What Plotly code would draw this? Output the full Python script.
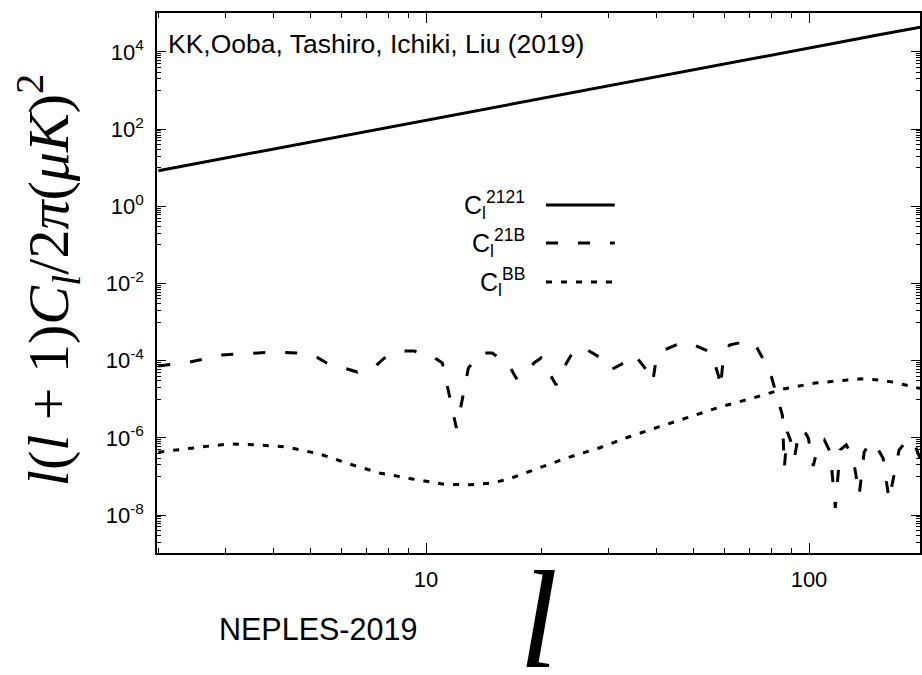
import plotly.graph_objects as go

# multipole values and l(l+1)C_l/2pi in (muK)^2
ell_2121 = [2, 3, 4, 5, 6, 8, 10, 15, 20, 30, 40, 50, 70, 100, 150, 200]
cl_2121 = [8.4, 18, 31, 47, 66, 112, 170, 365, 625, 1330, 2280, 3450, 6500, 12600, 27000, 46000]

ell_21b = [2.0, 2.42, 2.93, 3.53, 4.03, 4.59, 5.18, 5.50, 6.20, 6.62, 7.38, 7.79, 8.73, 9.32,
           10.45, 11.03, 11.5, 12.0, 12.43, 12.9, 13.93, 14.88, 16.38, 17.19, 18.36, 19.14,
           19.97, 20.95, 21.85, 22.79, 24.19, 25.84, 28.61, 30.38, 32.85, 35.08, 37.47, 39.08,
           39.8, 41.25, 46.22, 49.37, 55.33, 56.67, 58.05, 58.75, 59.8, 62.0, 69.1, 72.9, 77.4,
           79.8, 82.2, 85.2, 86.2, 87.8, 89.4, 91.6, 93.8, 96.6, 99.6, 102.6, 105.7, 109.6,
           113.6, 117.1, 120.6, 125.1, 130.4, 135.2, 139.3, 144.4, 149.7, 156.1, 161.8, 167.8,
           171.9, 181.4, 188.1, 194.9]
cl_21b = [7.3e-5, 9.3e-5, 1.41e-4, 1.59e-4, 1.69e-4, 1.59e-4, 1.25e-4, 8.8e-5, 6.1e-5, 5.1e-5,
          7.3e-5, 1.18e-4, 1.79e-4, 1.79e-4, 1.25e-4, 8.8e-5, 1.3e-5, 1.82e-6, 9.6e-6, 6.5e-5,
          1.59e-4, 1.59e-4, 8.3e-5, 3.58e-5, 4.8e-5, 8.8e-5, 1.18e-4, 4.8e-5, 2.36e-5, 6.1e-5,
          1.69e-4, 2.15e-4, 1.18e-4, 5.8e-5, 8.8e-5, 1.41e-4, 6.1e-5, 2.82e-5, 9.3e-5, 1.79e-4,
          2.89e-4, 2.72e-4, 1.69e-4, 8.8e-5, 4.0e-5, 1.97e-5, 1.41e-4, 2.56e-4, 3.26e-4, 2.28e-4,
          7.8e-5, 3.8e-5, 1.3e-5, 3.9e-6, 1.67e-7, 1.43e-6, 8.9e-7, 3.0e-7, 1.2e-6, 1.71e-6,
          1.0e-6, 1.88e-7, 6.6e-7, 8.9e-7, 4.3e-7, 1.54e-8, 4.9e-7, 6.6e-7, 3.0e-7, 3.3e-8,
          4.3e-7, 7.9e-7, 6.2e-7, 3.0e-7, 2.5e-8, 1.48e-7, 4.9e-7, 9.4e-7, 7.4e-7, 3.0e-7]

ell_bb = [2.0, 2.32, 2.73, 3.07, 3.61, 4.33, 5.27, 6.31, 7.56, 9.21, 11.03, 12.97, 14.88, 16.48,
          19.73, 23.2, 28.3, 33.8, 40.5, 48.5, 58.7, 71.6, 85.7, 103.8, 124.3, 136.8, 151.5,
          165.8, 192.6, 200]
cl_bb = [4.3e-7, 5.2e-7, 6.2e-7, 7.0e-7, 6.6e-7, 5.85e-7, 3.85e-7, 2.12e-7, 1.24e-7, 8.7e-8,
         6.4e-8, 6.1e-8, 6.8e-8, 8.7e-8, 1.67e-7, 3.0e-7, 5.5e-7, 1.06e-6, 1.93e-6, 3.5e-6,
         6.4e-6, 1.09e-5, 1.86e-5, 2.66e-5, 3.18e-5, 3.4e-5, 3.2e-5, 2.8e-5, 1.97e-5, 1.85e-5]

legend_labels = ["C<sub>l</sub><sup>2121</sup>", "C<sub>l</sub><sup>21B</sup>", "C<sub>l</sub><sup>BB</sup>"]
dashes = ["solid", "12px,20px", "6px,9px"]

y_major = [10.0 ** e for e in range(-8, 5, 2)]
y_major_text = ["10<sup>%d</sup>" % e for e in range(-8, 5, 2)]
y_minor = [m * 10.0 ** e for e in range(-9, 6, 2) for m in range(1, 10)]
x_major = [10, 100]
x_minor = [m * 10 ** e for e in range(0, 3) for m in range(2, 10)]

fig = go.Figure()
series = [(ell_2121, cl_2121), (ell_21b, cl_21b), (ell_bb, cl_bb)]
for (xs, ys), dash in zip(series, dashes):
    fig.add_trace(go.Scatter(x=xs, y=ys, mode="lines",
                             line=dict(color="black", width=3, dash=dash),
                             showlegend=False, hoverinfo="skip"))

sans = "Liberation Sans, Arial, Helvetica, sans-serif"
serif = "Liberation Serif, Times New Roman, serif"

# hand-built key: label on the left, line sample on the right
key_rows = [0.6444, 0.5741, 0.5019]
for lab, dash, yk in zip(legend_labels, dashes, key_rows):
    fig.add_shape(type="line", xref="paper", yref="paper", x0=0.5098, x1=0.6, y0=yk, y1=yk,
                  line=dict(color="black", width=3, dash=dash))
    fig.add_annotation(text=lab, xref="paper", yref="paper", x=0.485, y=yk,
                       xanchor="right", yanchor="middle", showarrow=False,
                       font=dict(family=sans, size=25, color="black"))

fig.add_annotation(text="KK,Ooba, Tashiro, Ichiki, Liu (2019)", xref="paper", yref="paper",
                   x=0.012, y=0.975, xanchor="left", yanchor="top", showarrow=False,
                   font=dict(family=sans, size=26.5, color="black"))
fig.add_annotation(text="NEPLES-2019", xref="paper", yref="paper",
                   x=0.079, y=-0.14, xanchor="left", yanchor="middle", showarrow=False,
                   font=dict(family=sans, size=30.5, color="black"))
fig.add_annotation(text="<i>l</i>", xref="paper", yref="paper",
                   x=0.5, y=0.024, xanchor="center", yanchor="top", showarrow=False,
                   font=dict(family=serif, size=140, color="black"))
fig.add_annotation(text="<i>l</i>(<i>l</i> + 1)<i>C<sub>l</sub></i>/2<i>π</i>(<i>μK</i>)<sup>2</sup>",
                   xref="paper", yref="paper", x=-0.1425, y=0.5056,
                   xanchor="center", yanchor="middle", textangle=-90, showarrow=False,
                   font=dict(family=serif, size=58, color="black"))

fig.update_xaxes(type="log", range=[0.2976, 2.2898],
                 tickmode="array", tickvals=x_major, ticktext=["10", "100"],
                 ticks="inside", ticklen=10, tickwidth=1.2, tickcolor="black",
                 minor=dict(tickmode="array", tickvals=x_minor, ticks="inside",
                            ticklen=5, tickwidth=1, tickcolor="black"),
                 showline=True, linecolor="black", linewidth=1.5, mirror="ticks",
                 showgrid=False, zeroline=False, ticklabelstandoff=6,
                 tickfont=dict(family=sans, size=22, color="black"))
fig.update_yaxes(type="log", range=[-8.98, 5.01],
                 tickmode="array", tickvals=y_major, ticktext=y_major_text,
                 ticks="inside", ticklen=9, tickwidth=1.2, tickcolor="black",
                 minor=dict(tickmode="array", tickvals=y_minor, ticks="inside",
                            ticklen=4, tickwidth=1, tickcolor="black"),
                 showline=True, linecolor="black", linewidth=1.5, mirror="ticks",
                 showgrid=False, zeroline=False, ticklabelstandoff=7,
                 tickfont=dict(family=sans, size=22, color="black"))

fig.update_layout(width=922, height=675,
                  margin=dict(l=157, r=0, t=13, b=122),
                  plot_bgcolor="white", paper_bgcolor="white")

fig.write_html("out.html")
